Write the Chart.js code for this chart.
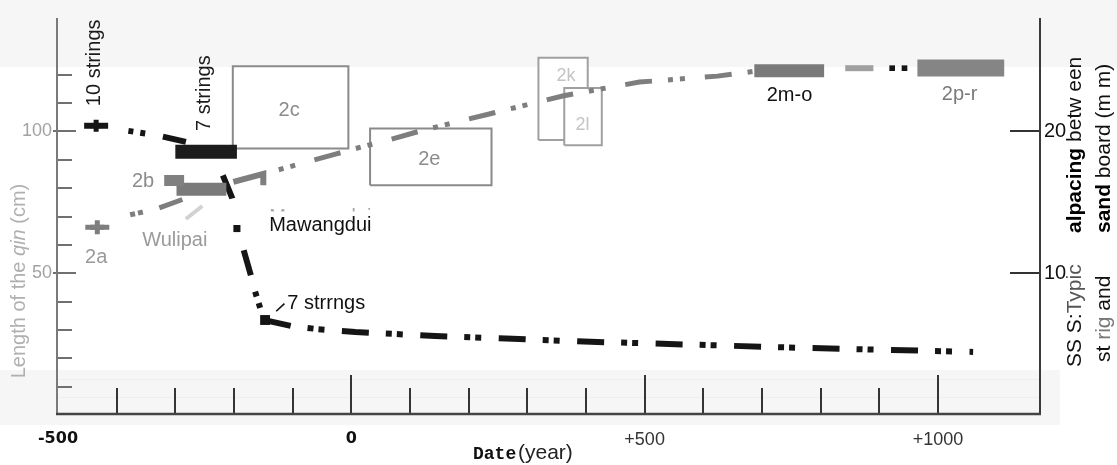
<!DOCTYPE html>
<html lang="en">
<head>
<meta charset="utf-8">
<title>Qin length and string spacing</title>
<script src="https://cdn.jsdelivr.net/npm/chart.js@4.4.1/dist/chart.umd.min.js"></script>
<style>
  html, body { margin: 0; padding: 0; background: #fff; }
  canvas { display: block; }
</style>
</head>
<body>
<canvas id="qinChart" width="1117" height="465"></canvas>
<script>
// tick labels
const yearTicks = [-500, 0, 500, 1000];
const lengthTicks = [0, 50, 100];
const spacingTicks = [0, 10, 20];

// length of the qin (cm) - grey series
const wulipaiYear = [-433];
const wulipaiLen = [66.2];
const earlyYears = [-377, -350, -330, -288];
const earlyLen = [70.6, 71.8, 72.8, 76];
const faintYears = [-282, -254];
const faintLen = [69.1, 73.7];
const hookYears = [-201, -150, -150];
const hookLen = [82.2, 85, 81];
const riseYears = [-150, -27, 22, 56, 120, 230, 362, 491, 624, 687];
const riseLen = [85, 92, 94.8, 96.5, 100.3, 105.9, 112.6, 117.4, 119.5, 121.2];

// length ranges drawn as thick bars
const rangeNames = ['2b', 'Wulipai', '2m-o', '2m-p', '2p-r'];
const rangeFrom = [-319, -298, 687, 842, 965];
const rangeTo = [-285, -213, 806, 890, 1113];
const rangeLen = [82.7, 79.6, 121.4, 122.3, 122.4];
const lateDotYears = [922, 943];
const lateDotLen = [122.3, 122.3];

// dated groups shown as boxes
const boxNames = ['2c', '2e', '2k', '2l'];
const boxFrom = [-202, 32, 319, 363];
const boxTo = [-5, 239, 403, 427];
const boxLow = [94, 81, 97, 95.1];
const boxHigh = [123, 101, 126, 115.3];

// string to board spacing (mm) - black series
const tenStrYear = [-435];
const tenStrMm = [20.4];
const tenStrLineYears = [-380, -330, -282];
const tenStrLineMm = [20.04, 19.72, 19.26];
const sevenBarYears = [-300, -195];
const sevenBarMm = [18.56, 18.56];
const descentYears = [-219, -203, -184, -172, -164, -155];
const descentMm = [16.9, 15.3, 11.7, 9.96, 8.7, 7.5];
const mawangduiYear = [-195];
const mawangduiMm = [13.15];
const sevenStrYear = [-147];
const sevenStrMm = [6.7];
const lateYears = [-140, -102, -58, 7, 143, 275, 408, 474, 765, 1060];
const lateMm = [6.62, 6.27, 6.06, 5.85, 5.57, 5.37, 5.16, 5.09, 4.74, 4.45];

const pts = (xs, ys) => xs.map((x, i) => ({ x: x, y: ys[i] }));

const GREY = '#7e7e7e';
const BLACK = '#151515';
const barStyles = [
  { color: '#808080', width: 11 },
  { color: '#7a7a7a', width: 13 },
  { color: '#7a7a7a', width: 13 },
  { color: '#a0a0a0', width: 6 },
  { color: '#858585', width: 17 }
];
const boxColors = ['#8a8a8a', '#8a8a8a', '#a0a0a0', '#a0a0a0'];

function line(label, data, color, width, dash, offset, axis, order) {
  return {
    label: label, data: data, showLine: true, pointRadius: 0,
    borderColor: color, borderWidth: width, borderDash: dash || [],
    borderDashOffset: offset || 0, borderCapStyle: 'butt',
    fill: false, yAxisID: axis, order: order
  };
}

function marker(label, data, style, radius, color, border, axis) {
  return {
    label: label, data: data, showLine: false, pointStyle: style,
    pointRadius: radius, pointBackgroundColor: color,
    pointBorderColor: color, pointBorderWidth: border,
    yAxisID: axis, order: 1
  };
}

const datasets = [];

boxNames.forEach((name, i) => {
  datasets.push({
    label: name,
    data: pts([boxFrom[i], boxTo[i], boxTo[i], boxFrom[i], boxFrom[i]],
              [boxLow[i], boxLow[i], boxHigh[i], boxHigh[i], boxLow[i]]),
    showLine: true, pointRadius: 0, borderColor: boxColors[i], borderWidth: 2,
    fill: 'shape', backgroundColor: '#ffffff', yAxisID: 'y', order: 30 - i
  });
});

datasets.push(line('faint', pts(faintYears, faintLen), '#d2d2d2', 4, null, 0, 'y', 12));
datasets.push(line('early length', pts(earlyYears, earlyLen), GREY, 5, [5, 3, 5, 17, 27, 200], 0, 'y', 10));
datasets.push(line('hook', pts(hookYears, hookLen), GREY, 6, null, 0, 'y', 10));
datasets.push(line('length', pts(riseYears, riseLen), GREY, 5, [27, 16, 5, 7, 5, 20], 27, 'y', 10));

rangeNames.forEach((name, i) => {
  datasets.push(line(name, pts([rangeFrom[i], rangeTo[i]], [rangeLen[i], rangeLen[i]]),
    barStyles[i].color, barStyles[i].width, null, 0, 'y', 6));
});

datasets.push(line('10 strings', pts(tenStrLineYears, tenStrLineMm), BLACK, 6, [5, 7, 5, 18, 30, 200], 0, 'y2', 8));
datasets.push(line('7 strings bar', pts(sevenBarYears, sevenBarMm), '#1c1c1c', 14, null, 0, 'y2', 5));
datasets.push(line('descent', pts(descentYears, descentMm), BLACK, 6, [25, 53, 26, 17, 5, 7, 5, 80], 0, 'y2', 8));
datasets.push(line('spacing', pts(lateYears, lateMm), BLACK, 6, [27, 17, 6, 5, 6, 17.5], 5, 'y2', 8));

// crosses: a short upright bar plus a wider horizontal one
datasets.push(marker('2a', pts(wulipaiYear, wulipaiLen), 'cross', 7, GREY, 5, 'y'));
datasets.push(marker('2a', pts(wulipaiYear, wulipaiLen), 'line', 12, GREY, 5, 'y'));
datasets.push(marker('10 strings', pts(tenStrYear, tenStrMm), 'cross', 6, BLACK, 5, 'y2'));
datasets.push(marker('10 strings', pts(tenStrYear, tenStrMm), 'line', 12, BLACK, 6, 'y2'));
datasets.push(marker('Mawangdui', pts(mawangduiYear, mawangduiMm), 'rect', 5, BLACK, 0, 'y2'));
datasets.push(marker('7 strings', pts(sevenStrYear, sevenStrMm), 'rect', 7, BLACK, 0, 'y2'));
datasets.push(marker('dots', pts(lateDotYears, lateDotLen), 'rect', 4, BLACK, 0, 'y'));

// text placed on the chart, in data units (year, cm)
const notes = [
  { text: '10 strings', year: -438, len: 124.2, rotate: true, color: '#1a1a1a' },
  { text: '7 strings', year: -251, len: 113.5, rotate: true, color: '#1a1a1a' },
  { text: '2c', year: -106, len: 107.4, color: '#8c8c8c' },
  { text: '2e', year: 133, len: 90, color: '#8c8c8c' },
  { text: '2k', year: 366, len: 119.6, color: '#c4c4c4', size: 18 },
  { text: '2l', year: 394, len: 102.2, color: '#c4c4c4', size: 18 },
  { text: '2m-o', year: 747, len: 112.6, color: '#111111' },
  { text: '2p-r', year: 1037, len: 113.2, color: '#7a7a7a' },
  { text: '2b', year: -355, len: 82.5, color: '#8c8c8c' },
  { text: '2a', year: -435, len: 55.7, color: '#9a9a9a' },
  { text: 'Wulipai', year: -301, len: 61.6, color: '#9a9a9a' },
  { text: 'Mawangdui', year: -140, len: 66.8, align: 'left', color: '#111111' },
  { text: '7 strrngs', year: -109, len: 39.5, align: 'left', color: '#111111' }
];

const framePlugin = {
  id: 'frame',
  beforeDatasetsDraw(chart) {
    const { ctx, chartArea: a, scales: { x, y, y2 } } = chart;
    ctx.save();
    // paper tone of the scanned strips
    ctx.fillStyle = '#f6f6f6';
    ctx.fillRect(0, 0, chart.width, a.top + 49);
    ctx.fillRect(0, a.bottom - 45, a.right + 20, 55);
    ctx.strokeStyle = 'rgba(0,0,0,0.03)';
    ctx.lineWidth = 1;
    for (let k = 0; k < 2; k++) {
      const py = a.bottom - 36 + k * 18 + 0.5;
      ctx.beginPath(); ctx.moveTo(a.left, py); ctx.lineTo(a.right, py); ctx.stroke();
    }

    // inward ticks on the length axis
    ctx.strokeStyle = '#707070';
    ctx.lineWidth = 2;
    for (let v = 10; v <= 120; v += 10) {
      const py = Math.round(y.getPixelForValue(v));
      const major = v % 50 === 0;
      ctx.beginPath();
      ctx.moveTo(a.left - (major ? 5 : 0), py);
      ctx.lineTo(a.left + (major ? 18 : 14), py);
      ctx.stroke();
    }
    // upward ticks on the date axis
    ctx.strokeStyle = '#353535';
    for (let v = -400; v <= 1000; v += 100) {
      const px = Math.round(x.getPixelForValue(v));
      ctx.beginPath();
      ctx.moveTo(px, a.bottom);
      ctx.lineTo(px, a.bottom - (v % 500 === 0 ? 40 : 27));
      ctx.stroke();
    }
    // spacing axis ticks
    ctx.strokeStyle = '#333';
    spacingTicks.filter(v => v > 0).forEach(v => {
      const py = Math.round(y2.getPixelForValue(v));
      ctx.beginPath(); ctx.moveTo(a.right - 30, py); ctx.lineTo(a.right, py); ctx.stroke();
    });

    // axis lines
    ctx.strokeStyle = '#7a7a7a';
    ctx.beginPath(); ctx.moveTo(a.left - 1, a.top); ctx.lineTo(a.left - 1, a.bottom); ctx.stroke();
    ctx.strokeStyle = '#3a3a3a';
    ctx.beginPath(); ctx.moveTo(a.right, a.top); ctx.lineTo(a.right, a.bottom); ctx.stroke();
    ctx.strokeStyle = '#444';
    ctx.lineWidth = 2.5;
    ctx.beginPath(); ctx.moveTo(a.left - 2, a.bottom - 1); ctx.lineTo(a.right + 1, a.bottom - 1); ctx.stroke();
    ctx.restore();
  }
};

const textPlugin = {
  id: 'texts',
  afterDatasetsDraw(chart) {
    const { ctx, chartArea: a, scales: { x, y } } = chart;
    ctx.save();
    ctx.textBaseline = 'middle';

    // half-hidden grey caption under the black one
    ctx.save();
    ctx.beginPath();
    ctx.rect(x.getPixelForValue(-140) - 2, y.getPixelForValue(75), 120, y.getPixelForValue(71.8) - y.getPixelForValue(75));
    ctx.clip();
    ctx.font = "20px 'Liberation Sans'";
    ctx.fillStyle = '#a8a8a8';
    ctx.textAlign = 'left';
    ctx.fillText('Mawangdui', x.getPixelForValue(-140), y.getPixelForValue(69.7));
    ctx.restore();

    notes.forEach(n => {
      ctx.save();
      ctx.translate(x.getPixelForValue(n.year), y.getPixelForValue(n.len));
      if (n.rotate) ctx.rotate(-Math.PI / 2);
      ctx.font = (n.size || 20) + "px 'Liberation Sans'";
      ctx.fillStyle = n.color;
      ctx.textAlign = n.align || 'center';
      ctx.fillText(n.text, 0, 0);
      ctx.restore();
    });

    // leader for the 7 strings marker
    ctx.strokeStyle = '#111';
    ctx.lineWidth = 1.6;
    ctx.beginPath();
    ctx.moveTo(x.getPixelForValue(-128), y.getPixelForValue(36.6));
    ctx.lineTo(x.getPixelForValue(-114), y.getPixelForValue(39.3));
    ctx.stroke();

    // left axis title
    ctx.save();
    ctx.translate(a.left - 39, 281);
    ctx.rotate(-Math.PI / 2);
    ctx.fillStyle = '#b0b0b0';
    const leftParts = [['Length of the ', '20px'], ['qin', 'italic 20px'], [' (cm)', '20px']];
    let total = 0;
    leftParts.forEach(p => { ctx.font = p[1] + " 'Liberation Sans'"; total += ctx.measureText(p[0]).width; });
    let cx = -total / 2;
    ctx.textAlign = 'left';
    leftParts.forEach(p => {
      ctx.font = p[1] + " 'Liberation Sans'";
      ctx.fillText(p[0], cx, 0);
      cx += ctx.measureText(p[0]).width;
    });
    ctx.restore();

    // bottom axis title
    ctx.textAlign = 'left';
    ctx.fillStyle = '#111';
    ctx.font = "bold 18px 'Liberation Mono'";
    ctx.fillText('Date', 473, a.bottom + 39);
    ctx.font = "21px 'Liberation Sans'";
    ctx.fillStyle = '#222';
    ctx.fillText('(year)', 518, a.bottom + 38);

    // right axis title, two rotated lines
    const rightTitle = [
      { dx: 35, y0: 367, parts: [['SS S:', '#111', ''], ['Typic', '#555', '']] },
      { dx: 35, y0: 233, parts: [['alpacing', '#000', 'bold '], [' betw een', '#111', '']] },
      { dx: 64, y0: 362, parts: [['st ', '#111', ''], ['rig', '#777', ''], [' and', '#111', '']] },
      { dx: 64, y0: 233, parts: [['sand', '#000', 'bold '], [' board (m m)', '#111', '']] }
    ];
    rightTitle.forEach(r => {
      ctx.save();
      ctx.translate(a.right + r.dx, r.y0);
      ctx.rotate(-Math.PI / 2);
      let off = 0;
      r.parts.forEach(p => {
        ctx.font = p[2] + "21px 'Liberation Sans'";
        ctx.fillStyle = p[1];
        ctx.fillText(p[0], off, 0);
        off += ctx.measureText(p[0]).width;
      });
      ctx.restore();
    });
    ctx.restore();
  }
};

Chart.defaults.font.family = "'Liberation Sans', Arial, sans-serif";

new Chart(document.getElementById('qinChart'), {
  type: 'scatter',
  data: { datasets: datasets },
  options: {
    responsive: false,
    animation: false,
    layout: { padding: { top: 13, left: 0, right: 0, bottom: 0 } },
    plugins: { legend: { display: false }, tooltip: { enabled: false } },
    elements: { line: { tension: 0 } },
    scales: {
      x: {
        type: 'linear', min: -500, max: 1174,
        grid: { display: false, drawTicks: false }, border: { display: false },
        afterFit: s => { s.height = 50; },
        afterBuildTicks: s => { s.ticks = yearTicks.map(v => ({ value: v })); },
        ticks: {
          padding: 14, autoSkip: false, maxRotation: 0,
          callback: v => (v > 0 ? '+' + v : String(v)),
          font: c => (c.tick && c.tick.value <= 0
            ? { family: "'DejaVu Sans'", weight: 'bold', size: 16 }
            : { family: "'Liberation Sans'", size: 18 }),
          color: c => (c.tick && c.tick.value <= 0 ? '#111' : '#333')
        }
      },
      y: {
        position: 'left', min: 0, max: 140,
        grid: { display: false, drawTicks: false }, border: { display: false },
        afterFit: s => { s.width = 58; },
        afterBuildTicks: s => { s.ticks = lengthTicks.map(v => ({ value: v })); },
        ticks: {
          padding: 6, font: { size: 18 },
          color: c => (c.tick && c.tick.value === 0 ? '#c6c6c6' : '#a2a2a2')
        }
      },
      y2: {
        position: 'right', min: 0, max: 28,
        grid: { display: false, drawTicks: false }, border: { display: false },
        afterFit: s => { s.width = 77; },
        afterBuildTicks: s => { s.ticks = spacingTicks.map(v => ({ value: v })); },
        ticks: {
          padding: 4, font: { size: 20 },
          color: c => (c.tick && c.tick.value === 0 ? '#c6c6c6' : '#111')
        }
      }
    }
  },
  plugins: [framePlugin, textPlugin]
});
</script>
</body>
</html>
